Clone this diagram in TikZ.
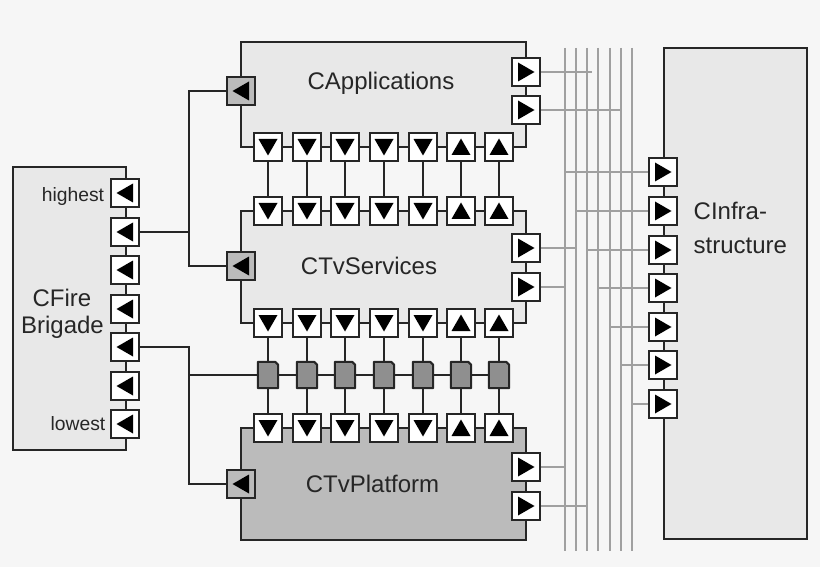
\documentclass[tikz,border=0pt]{standalone}
\usepackage{fontspec}
\setmainfont{Liberation Sans}
\definecolor{bg}{HTML}{F6F6F6}
\definecolor{lightbox}{HTML}{E8E8E8}
\definecolor{darkbox}{HTML}{BBBBBB}
\definecolor{midgray}{HTML}{8F8F8F}
\definecolor{busgray}{HTML}{A0A0A0}
\definecolor{ink}{HTML}{262626}
\tikzset{
  x=1pt,y=-1pt,
  wire/.style={draw=ink,line width=2pt},
  buswire/.style={draw=busgray,line width=2pt},
  busthin/.style={draw=busgray,line width=2pt},
  blockbox/.style={draw=ink,line width=2pt,fill=lightbox,rectangle,inner sep=0pt},
  port/.style={draw=ink,line width=2pt,fill=white,rectangle,minimum size=28pt,inner sep=0pt},
  tl/.style={path picture={\fill[black] ([shift={(-8.5pt,0pt)}]path picture bounding box.center) -- ([shift={(8pt,9.5pt)}]path picture bounding box.center) -- ([shift={(8pt,-9.5pt)}]path picture bounding box.center) -- cycle;}},
  tr/.style={path picture={\fill[black] ([shift={(8.5pt,0pt)}]path picture bounding box.center) -- ([shift={(-8pt,9.5pt)}]path picture bounding box.center) -- ([shift={(-8pt,-9.5pt)}]path picture bounding box.center) -- cycle;}},
  td/.style={path picture={\fill[black] ([shift={(0pt,-8.5pt)}]path picture bounding box.center) -- ([shift={(-9.5pt,8pt)}]path picture bounding box.center) -- ([shift={(9.5pt,8pt)}]path picture bounding box.center) -- cycle;}},
  tu/.style={path picture={\fill[black] ([shift={(0pt,8.5pt)}]path picture bounding box.center) -- ([shift={(-9.5pt,-8pt)}]path picture bounding box.center) -- ([shift={(9.5pt,-8pt)}]path picture bounding box.center) -- cycle;}},
  grayport/.style={port,fill=darkbox,tl},
  midnode/.style={rectangle,minimum width=20pt,minimum height=26pt,inner sep=0pt},
  midbody/.style={draw=ink,line width=2pt,fill=midgray,line join=round},
  lab/.style={text=ink,font=\fontsize{24}{26}\selectfont,anchor=base,inner sep=0pt},
  smalllab/.style={text=ink,font=\fontsize{19.3}{22}\selectfont,anchor=base,inner sep=0pt},
}
\begin{document}
\begin{tikzpicture}
\useasboundingbox (0,0) rectangle (820,567);
\fill[bg] (0,0) rectangle (820,567);
% blocks
\node[blockbox,minimum width=113pt,minimum height=283pt] (fire) at (69.5,308.5) {};
\node[blockbox,minimum width=285pt,minimum height=105pt] (apps) at (383.5,94.5) {};
\node[blockbox,minimum width=285pt,minimum height=112pt] (serv) at (383.5,267) {};
\node[blockbox,fill=darkbox,minimum width=285pt,minimum height=112pt] (plat) at (383.5,484) {};
\node[blockbox,minimum width=143pt,minimum height=491pt] (infra) at (735.5,293.5) {};
% bus anchors
\foreach \i/\x in {1/565,2/576,3/587,4/598,5/610,6/621,7/632}{
  \coordinate (busT\i) at (\x,48);
  \coordinate (busB\i) at (\x,551);
}
\coordinate (appsEnd) at (592,72);
% ports of CFire Brigade
\foreach \i/\y in {1/193,2/232,3/270,4/309,5/347,6/386,7/424}{
  \node[port,tl] (f\i) at (125,\y) {};
}
% control ports
\node[grayport] (ga) at (241,91) {};
\node[grayport] (gs) at (241,266) {};
\node[grayport] (gp) at (241,484) {};
% port rows
\foreach \i/\x/\d in {1/268/td,2/307/td,3/345/td,4/384/td,5/423/td,6/461/tu,7/499/tu}{
  \node[port,\d] (a\i) at (\x,147) {};
  \node[port,\d] (st\i) at (\x,211) {};
  \node[port,\d] (sb\i) at (\x,323) {};
  \node[midnode] (m\i) at (\x,375) {};
  \draw[midbody] (m\i.south west) -- (m\i.north west) -- ([xshift=-3pt]m\i.north east) -- ([yshift=-3pt]m\i.north east) -- (m\i.south east) -- cycle;
  \node[port,\d] (p\i) at (\x,428) {};
  \draw[wire] (a\i) -- (st\i);
  \draw[wire] (sb\i) -- (m\i);
  \draw[wire] (m\i) -- (p\i);
}
% right ports of blocks
\node[port,tr] (ar1) at (526,72) {};
\node[port,tr] (ar2) at (526,110) {};
\node[port,tr] (sr1) at (526,248) {};
\node[port,tr] (sr2) at (526,287) {};
\node[port,tr] (pr1) at (526,467) {};
\node[port,tr] (pr2) at (526,506) {};
% infrastructure ports
\foreach \i/\y in {1/172,2/211,3/250,4/288,5/327,6/365,7/404}{
  \node[port,tr] (c\i) at (663,\y) {};
}
% mid chain
\foreach \i/\j in {1/2,2/3,3/4,4/5,5/6,6/7}{
  \draw[wire] (m\i) -- (m\j);
}
% fire links
\coordinate (fa) at (189,91);
\coordinate (fs) at (189,266);
\coordinate (fp) at (189,484);
\coordinate (fj) at (189,347);
\draw[wire] (ga.west) -- (fa) -- (fs) -- (gs.west);
\draw[wire] (f2.east) -- (f2.east -| fa);
\draw[wire] (f5.east) -- (fj) -- (fp) -- (gp.west);
\draw[wire] (m1.west) -- (m1.west -| fa);
% bus
\foreach \i in {1,...,7}{
  \draw[buswire] (busT\i) -- (busB\i);
}
\draw[busthin] (ar1.east) -- (appsEnd);
\draw[busthin] (ar2.east) -- (ar2.east -| busT6);
\draw[busthin] (sr1.east) -- (sr1.east -| busT2);
\draw[busthin] (sr2.east) -- (sr2.east -| busT1);
\draw[busthin] (pr1.east) -- (pr1.east -| busT1);
\draw[busthin] (pr2.east) -- (pr2.east -| busT3);
\foreach \i in {1,...,7}{
  \draw[busthin] (c\i.west) -- (c\i.west -| busT\i);
}
% labels
\node[lab] (tapps) at (381,89.5) {CApplications};
\node[lab] (tserv) at (369,274) {CTvServices};
\node[lab] (tplat) at (372.5,492) {CTvPlatform};
\node[lab,anchor=base west] (tinf1) at (693.5,219) {CInfra-};
\node[lab,anchor=base west] (tinf2) at (693.5,253) {structure};
\node[lab] (tfire1) at (62,306) {CFire};
\node[lab] (tfire2) at (62.5,333) {Brigade};
\node[smalllab] (thigh) at (73,201) {highest};
\node[smalllab] (tlow) at (78,430) {lowest};
\end{tikzpicture}
\end{document}
